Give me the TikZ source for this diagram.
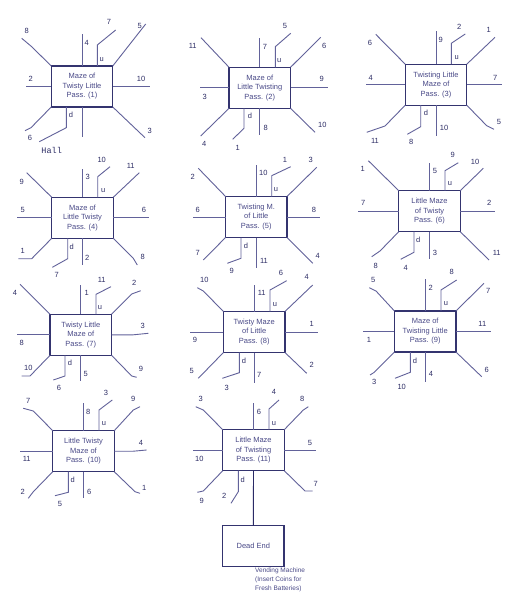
\documentclass[tikz,border=0pt]{standalone}
\usepackage{fontspec}
\setmainfont{Liberation Sans}
\newfontfamily\monof{Liberation Mono}
\definecolor{lnc}{HTML}{62629A}
\definecolor{bxc}{HTML}{34346F}
\definecolor{txc}{HTML}{2E2E66}
\definecolor{btc}{HTML}{4A4A88}
\definecolor{dkl}{HTML}{2A2A66}
\newcommand\mzex[5]{\coordinate (#2) at #3; \draw[exit] (#1) -- (#2); \node[lbl] (#2L) at #4 {#5};}
\newcommand\mzexk[6]{\coordinate (#2k) at #3; \coordinate (#2) at #4; \draw[exit] (#1) -- (#2k) -- (#2); \node[lbl] (#2L) at #5 {#6};}
\begin{document}
\begin{tikzpicture}[x=1pt,y=-1pt,
  maze/.style={draw=bxc,line width=1.3pt,fill=white,minimum width=61.5pt,minimum height=41pt,inner sep=0pt,outer sep=0pt,align=center,font=\fontsize{7.5}{9.5}\selectfont,text=btc},
  exit/.style={draw=lnc,line width=0.9pt},
  lbl/.style={inner sep=0pt,font=\fontsize{7.5}{8}\selectfont,text=txc},
  note/.style={inner sep=0pt,align=left,font=\fontsize{6.5}{9}\selectfont,text=btc}]
\fill[white] (0,0) rectangle (511,604);
\useasboundingbox (0,0) rectangle (511,604);
% ---------- Box 1
\node[maze] (b1) at (82,86.5) {Maze of\\Twisty Little\\Pass. (1)};
\node[lbl] (b1uu) at (101.7,60) {u};
\node[lbl] (b1dd) at (71,115.3) {d};
\mzex{b1.north}{b1n}{(82,34)}{(86.7,42.7)}{4}
\mzexk{b1.north -| b1uk}{b1u}{(97.3,45)}{(115.7,30)}{(109,21.7)}{7}
\mzex{b1.north east}{b1ne}{(145.7,24)}{(139.7,26)}{5}
\mzex{b1.east}{b1e}{(150,86.5)}{(141,79)}{10}
\mzex{b1.south east}{b1se}{(145,137.7)}{(149.7,131)}{3}
\coordinate (b1s) at (82,137.3); \draw[exit] (b1.south) -- (b1s);
\coordinate (b1dk) at (66.3,127.7); \coordinate (b1d) at (39.3,141.7);
\draw[exit] (b1.south -| b1dk) -- (b1dk) -- (b1d);
\node[lbl,font=\monof\fontsize{8.5}{9}\selectfont] (b1dL) at (51.7,150) {Hall};
\mzexk{b1.south west}{b1sw}{(31,127.7)}{(25,130.7)}{(30,138.3)}{6}
\mzex{b1.west}{b1w}{(26,86.5)}{(30.7,79)}{2}
\mzexk{b1.north west}{b1nw}{(31.7,46.7)}{(21.7,38.3)}{(26.7,31)}{8}
% ---------- Box 2
\node[maze] (b2) at (259.8,87.8) {Maze of\\Little Twisting\\Pass. (2)};
\node[lbl] (b2uu) at (279.3,60.7) {u};
\node[lbl] (b2dd) at (250,116) {d};
\mzex{b2.north}{b2n}{(259.8,38.3)}{(265,47.3)}{7}
\mzexk{b2.north -| b2uk}{b2u}{(275.3,46.7)}{(290.7,33.3)}{(285,25.7)}{5}
\mzex{b2.north east}{b2ne}{(320.7,37.3)}{(324.3,46)}{6}
\mzex{b2.east}{b2e}{(327.7,87.8)}{(321.7,79.3)}{9}
\mzex{b2.south east}{b2se}{(315,132.3)}{(322.3,125)}{10}
\mzex{b2.south}{b2s}{(259.8,135)}{(265.7,127.7)}{8}
\mzexk{b2.south -| b2dk}{b2d}{(244,128.3)}{(232.7,139.3)}{(237.7,147.7)}{1}
\mzex{b2.south west}{b2sw}{(200.7,136)}{(204.3,144)}{4}
\mzex{b2.west}{b2w}{(200,87.8)}{(204.7,96.7)}{3}
\mzex{b2.north west}{b2nw}{(201,37.7)}{(192.7,45.7)}{11}
% ---------- Box 3
\node[maze] (b3) at (436,84.7) {Twisting Little\\Maze of\\Pass. (3)};
\node[lbl] (b3uu) at (456.7,57.3) {u};
\node[lbl] (b3dd) at (426,113.3) {d};
\mzex{b3.north}{b3n}{(436,31)}{(440.7,40)}{9}
\mzexk{b3.north -| b3uk}{b3u}{(451.3,43.3)}{(465.3,34)}{(459.3,26.7)}{2}
\mzex{b3.north east}{b3ne}{(495,37.3)}{(488.7,30)}{1}
\mzex{b3.east}{b3e}{(502.3,84.7)}{(495.3,78)}{7}
\mzexk{b3.south east}{b3se}{(486.7,125.7)}{(494,129.3)}{(499,122)}{5}
\mzex{b3.south}{b3s}{(436,135.7)}{(444,127.7)}{10}
\mzexk{b3.south -| b3dk}{b3d}{(420.7,126.7)}{(407.3,134.3)}{(411.3,142.3)}{8}
\mzexk{b3.south west}{b3sw}{(385,126)}{(366.7,132.3)}{(375,140.7)}{11}
\mzex{b3.west}{b3w}{(366,84.7)}{(370.7,78)}{4}
\mzex{b3.north west}{b3nw}{(375.7,34.3)}{(370,43.3)}{6}
% ---------- Box 4
\node[maze] (b4) at (82.5,217.8) {Maze of\\Little Twisty\\Pass. (4)};
\node[lbl] (b4uu) at (103.3,191) {u};
\node[lbl] (b4dd) at (71.7,246.7) {d};
\mzex{b4.north}{b4n}{(82.5,169.3)}{(87.7,176.7)}{3}
\mzexk{b4.north -| b4uk}{b4u}{(97.7,176.7)}{(110,166.7)}{(101.7,160)}{10}
\mzex{b4.north east}{b4ne}{(139.3,172.7)}{(130.7,165.7)}{11}
\mzex{b4.east}{b4e}{(149.3,217.8)}{(144,210)}{6}
\mzexk{b4.south east}{b4se}{(133.3,258.3)}{(137.3,265)}{(142.7,257.3)}{8}
\mzex{b4.south}{b4s}{(82.5,265)}{(87.3,258.3)}{2}
\mzexk{b4.south -| b4dk}{b4d}{(67.7,258.7)}{(52.3,267.3)}{(56.7,275)}{7}
\mzexk{b4.south west}{b4sw}{(31.7,258.7)}{(18.3,258.7)}{(22.7,250.7)}{1}
\mzex{b4.west}{b4w}{(17.3,217.8)}{(22.7,210)}{5}
\mzex{b4.north west}{b4nw}{(26.7,172.7)}{(21.7,181.7)}{9}
% ---------- Box 5
\node[maze] (b5) at (256.3,217) {Twisting M.\\of Little\\Pass. (5)};
\node[lbl] (b5uu) at (276,189.3) {u};
\node[lbl] (b5dd) at (246,245.7) {d};
\mzex{b5.north}{b5n}{(256.3,165)}{(263.3,173.3)}{10}
\mzexk{b5.north -| b5uk}{b5u}{(271.7,175.7)}{(290.7,166.7)}{(285,160)}{1}
\mzex{b5.north east}{b5ne}{(316.7,167.3)}{(310.7,160)}{3}
\mzex{b5.east}{b5e}{(320,217)}{(314,210)}{8}
\mzex{b5.south east}{b5se}{(312.7,263.3)}{(317.7,256)}{4}
\mzex{b5.south}{b5s}{(256.3,268.3)}{(264,260.7)}{11}
\mzexk{b5.south -| b5dk}{b5d}{(241,258.3)}{(227.3,263.3)}{(231.7,270.7)}{9}
\mzex{b5.south west}{b5sw}{(203.3,260)}{(197.7,253.3)}{7}
\mzex{b5.west}{b5w}{(192.7,217)}{(197.7,210)}{6}
\mzex{b5.north west}{b5nw}{(198.3,168.3)}{(192.7,176.7)}{2}
% ---------- Box 6
\node[maze] (b6) at (429.5,211.2) {Little Maze\\of Twisty\\Pass. (6)};
\node[lbl] (b6uu) at (450,183.3) {u};
\node[lbl] (b6dd) at (418.3,240) {d};
\mzex{b6.north}{b6n}{(429.5,163.3)}{(435,170.7)}{5}
\mzexk{b6.north -| b6uk}{b6u}{(445,170.7)}{(458.3,162.7)}{(452.7,155)}{9}
\mzex{b6.north east}{b6ne}{(483.3,168.3)}{(475,161.7)}{10}
\mzex{b6.east}{b6e}{(495.3,211.2)}{(489.3,203.3)}{2}
\mzex{b6.south east}{b6se}{(489,260)}{(496.7,252.7)}{11}
\mzex{b6.south}{b6s}{(429.5,259.3)}{(435,252.7)}{3}
\mzexk{b6.south -| b6dk}{b6d}{(414,252.3)}{(400.7,259.3)}{(405.7,267.7)}{4}
\mzexk{b6.south west}{b6sw}{(380,251)}{(371.7,256.7)}{(375.7,266)}{8}
\mzex{b6.west}{b6w}{(358.3,211.2)}{(363.3,203.3)}{7}
\mzex{b6.north west}{b6nw}{(368.3,160.7)}{(362.7,169)}{1}
% ---------- Box 7
\node[maze] (b7) at (80.8,334.8) {Twisty Little\\Maze of\\Pass. (7)};
\node[lbl] (b7uu) at (100,307.7) {u};
\node[lbl] (b7dd) at (70,363.3) {d};
\mzex{b7.north}{b7n}{(80.8,285)}{(86.7,293.3)}{1}
\mzexk{b7.north -| b7uk}{b7u}{(96,294.3)}{(111,286.7)}{(101.7,280)}{11}
\mzexk{b7.north east}{b7ne}{(131.7,294)}{(140.7,290.7)}{(134.3,283.3)}{2}
\mzexk{b7.east}{b7e}{(133.3,334.8)}{(148.3,333.3)}{(142.7,326)}{3}
\mzexk{b7.south east}{b7se}{(131.7,376)}{(136.7,377.3)}{(141,369.3)}{9}
\mzex{b7.south}{b7s}{(80.8,380.7)}{(85.7,374)}{5}
\mzexk{b7.south -| b7dk}{b7d}{(65,376)}{(53.3,380)}{(59,388.3)}{6}
\mzexk{b7.south west}{b7sw}{(30,376)}{(21.7,376)}{(28.3,368.3)}{10}
\mzex{b7.west}{b7w}{(16.7,334.8)}{(21.7,343.3)}{8}
\mzex{b7.north west}{b7nw}{(20,284.3)}{(15,292.7)}{4}
% ---------- Box 8
\node[maze] (b8) at (254.2,332) {Twisty Maze\\of Little\\Pass. (8)};
\node[lbl] (b8uu) at (275,304.3) {u};
\node[lbl] (b8dd) at (244,360.7) {d};
\mzex{b8.north}{b8n}{(254.2,285)}{(261.7,292.7)}{11}
\mzexk{b8.north -| b8uk}{b8u}{(270,290)}{(286.7,280.7)}{(281,273.3)}{6}
\mzex{b8.north east}{b8ne}{(312.7,285)}{(306.7,277.3)}{4}
\mzex{b8.east}{b8e}{(317.7,332)}{(311.7,324.3)}{1}
\mzex{b8.south east}{b8se}{(306.7,373.3)}{(311.7,365)}{2}
\mzex{b8.south}{b8s}{(254.2,383.3)}{(259.3,375)}{7}
\mzexk{b8.south -| b8dk}{b8d}{(239.3,372.7)}{(222.3,378.3)}{(226.7,387.7)}{3}
\mzex{b8.south west}{b8sw}{(198.3,378.3)}{(191.7,371)}{5}
\mzex{b8.west}{b8w}{(190,332)}{(195,340)}{9}
\mzexk{b8.north west}{b8nw}{(203.3,291)}{(197.3,287.7)}{(204.3,280)}{10}
% ---------- Box 9
\node[maze] (b9) at (425.2,331.5) {Maze of\\Twisting Little\\Pass. (9)};
\node[lbl] (b9uu) at (446,303.3) {u};
\node[lbl] (b9dd) at (415,361) {d};
\mzex{b9.north}{b9n}{(425.2,279)}{(430.7,287.7)}{2}
\mzexk{b9.north -| b9uk}{b9u}{(441,290)}{(456.7,280)}{(451.7,272.3)}{8}
\mzex{b9.north east}{b9ne}{(484,283.3)}{(488.3,291)}{7}
\mzex{b9.east}{b9e}{(491,331.5)}{(482.3,324.3)}{11}
\mzex{b9.south east}{b9se}{(481.7,376.7)}{(486.7,370)}{6}
\mzex{b9.south}{b9s}{(425.2,381.7)}{(431,374)}{4}
\mzexk{b9.south -| b9dk}{b9d}{(410.3,372.3)}{(395,378.3)}{(401.7,386.7)}{10}
\mzexk{b9.south west}{b9sw}{(374.3,372.3)}{(370,375)}{(374.3,382.3)}{3}
\mzex{b9.west}{b9w}{(362.7,331.5)}{(369,340)}{1}
\mzexk{b9.north west}{b9nw}{(376,291)}{(369.3,287.7)}{(373.3,280)}{5}
% ---------- Box 10
\node[maze] (b10) at (83.5,451.2) {Little Twisty\\Maze of\\Pass. (10)};
\node[lbl] (b10uu) at (104,423.3) {u};
\node[lbl] (b10dd) at (72.7,480) {d};
\mzex{b10.north}{b10n}{(83.5,403.3)}{(88.3,412.3)}{8}
\mzexk{b10.north -| b10uk}{b10u}{(99,410)}{(112.3,400)}{(106,393.3)}{3}
\mzexk{b10.north east}{b10ne}{(133.3,410)}{(140,406.7)}{(133.3,399)}{9}
\mzexk{b10.east}{b10e}{(133.3,451.2)}{(146.7,450)}{(141,443.3)}{4}
\mzexk{b10.south east}{b10se}{(135,491.7)}{(140,493.3)}{(144.3,487.7)}{1}
\mzex{b10.south}{b10s}{(83.5,498.3)}{(89.3,492.3)}{6}
\mzexk{b10.south -| b10dk}{b10d}{(68.3,492.3)}{(55,495.7)}{(60,504.3)}{5}
\mzexk{b10.south west}{b10sw}{(33.3,491.7)}{(28.3,498.3)}{(22.7,491.7)}{2}
\mzex{b10.west}{b10w}{(20,451.2)}{(26.7,459)}{11}
\mzexk{b10.north west}{b10nw}{(33.3,411)}{(23.3,408.3)}{(28.3,401)}{7}
% ---------- Box 11
\node[maze] (b11) at (253.5,450.2) {Little Maze\\of Twisting\\Pass. (11)};
\node[lbl] (b11uu) at (274,423.3) {u};
\node[lbl] (b11dd) at (242.7,480) {d};
\mzex{b11.north}{b11n}{(253.5,403.3)}{(259,412.3)}{6}
\mzexk{b11.north -| b11uk}{b11u}{(269,409)}{(279,400)}{(274,392.3)}{4}
\mzexk{b11.north east}{b11ne}{(303.3,410)}{(308.3,406.7)}{(302.3,399)}{8}
\mzex{b11.east}{b11e}{(315.7,450.2)}{(310,443.3)}{5}
\mzexk{b11.south east}{b11se}{(305,491)}{(312.7,491)}{(315.7,484)}{7}
\mzexk{b11.south -| b11dk}{b11d}{(238.3,491.7)}{(231,503.3)}{(224.3,496)}{2}
\mzexk{b11.south west}{b11sw}{(203.3,491)}{(197.3,492.3)}{(201.7,501)}{9}
\mzex{b11.west}{b11w}{(192.7,450.2)}{(199.3,459)}{10}
\mzexk{b11.north west}{b11nw}{(203.3,410)}{(195.7,406.7)}{(200.7,399)}{3}
% ---------- Dead end
\node[maze] (dead) at (253.3,546.3) {Dead End};
\draw[exit,draw=dkl] (b11.south) -- (dead.north);
\node[note,anchor=north west] (vend) at (255,568) {Vending Machine\\(Insert Coins for\\Fresh Batteries)};
\end{tikzpicture}
\end{document}
